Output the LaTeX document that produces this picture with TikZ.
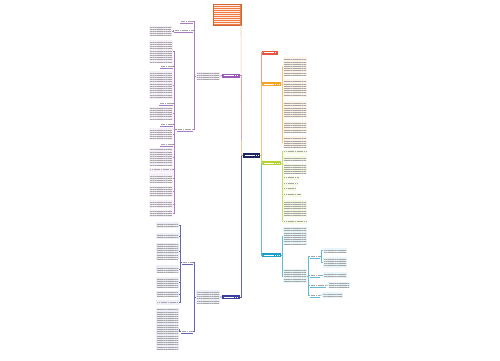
\documentclass[tikz,border=0pt]{standalone}
\usetikzlibrary{patterns.meta}
\definecolor{txt}{HTML}{A6A6A6}
\definecolor{cTop}{HTML}{EF7A42}
\definecolor{cRed}{HTML}{E8553E}
\definecolor{cOrg}{HTML}{F5A524}
\definecolor{cGrn}{HTML}{B5D334}
\definecolor{cCyn}{HTML}{1E9FC9}
\definecolor{cRoot}{HTML}{1D2767}
\definecolor{cPur}{HTML}{9C5BB6}
\definecolor{cNav}{HTML}{3D3F9E}
\definecolor{bOrg}{HTML}{FEF4E8}
\definecolor{bGrn}{HTML}{F7FAE3}
\definecolor{bCyn}{HTML}{E8F5FA}
\definecolor{bPur}{HTML}{F6EEF8}
\definecolor{bNav}{HTML}{EDEEF8}
\definecolor{lTop}{HTML}{F4C7A2}
\definecolor{lRed}{HTML}{EE9C8C}
\definecolor{lOrg}{HTML}{F6C478}
\definecolor{lGrn}{HTML}{C8DB6E}
\definecolor{lCyn}{HTML}{63B9D9}
\definecolor{lPur}{HTML}{A87CC1}
\definecolor{lNav}{HTML}{6466B4}
\newcommand\bx[6]{\pgfmathsetmacro\bxw{#4-(#2)}\pgfmathsetmacro\bxh{#5-(#3)}%
  \node[#6, anchor=north west, minimum width=\bxw bp, minimum height=\bxh bp] (#1) at (#2,#3) {};}
\tikzset{
  every node/.style={inner sep=0pt, outer sep=0pt},
  ln/.style={line width=0.6bp},
  tblk/.style={fill=#1, path picture={\fill[pattern={Lines[angle=0,distance=2.2pt,line width=0.55pt]}, pattern color=txt]
     ([xshift=1bp,yshift=-1bp]path picture bounding box.north west) rectangle ([xshift=-1bp,yshift=0.8bp]path picture bounding box.south east);}},
  sline/.style={fill=#1, path picture={\draw[txt, line width=0.65pt, dash pattern=on 1.4pt off 0.4pt]
     ([xshift=1bp]path picture bounding box.west) -- ([xshift=-1bp]path picture bounding box.east);}},
  lbl/.style={path picture={\draw[txt, line width=0.65pt, dash pattern=on 1.4pt off 0.4pt]
     ([xshift=0.5bp,yshift=0.3bp]path picture bounding box.west) -- ([xshift=-0.5bp,yshift=0.3bp]path picture bounding box.east);}},
  cn/.style={fill=#1, path picture={\draw[white, line width=0.8pt, dash pattern=on 1.5pt off 0.4pt]
     ([xshift=1.5bp]path picture bounding box.west) -- ([xshift=-1.5bp]path picture bounding box.east);}},
  topbox/.style={fill=cTop, draw=cTop!85!black, line width=0.3bp, path picture={\fill[pattern={Lines[angle=0,distance=2pt,line width=0.5pt]}, pattern color=white!85!cTop]
     ([xshift=1.2bp,yshift=-1.2bp]path picture bounding box.north west) rectangle ([xshift=-1.2bp,yshift=1bp]path picture bounding box.south east);}}
}
\begin{document}
\begin{tikzpicture}[x=1bp,y=-1bp]
\fill[white] (0,0) rectangle (500,360);
\useasboundingbox (0,0) rectangle (500,360);
% main nodes
\bx{top}{213}{4}{241}{25}{topbox}
\bx{root}{243}{152.5}{260}{157.5}{cn=cRoot}
\bx{red}{262}{50.5}{278}{54.5}{cn=cRed}
\bx{org}{262}{82}{281}{86}{cn=cOrg}
\bx{grn}{262}{161}{281}{165}{cn=cGrn}
\bx{cyn}{262}{253}{281}{257}{cn=cCyn}
\bx{pur}{222}{73.5}{240}{77.5}{cn=cPur}
\bx{nav}{222}{295}{240}{299}{cn=cNav}
% orange children
\bx{o1}{283}{57}{307}{76}{tblk=bOrg}
\bx{o2}{283}{79}{307}{97}{tblk=bOrg}
\bx{o3}{283}{101}{307}{118}{tblk=bOrg}
\bx{o4}{283}{121}{307}{133}{tblk=bOrg}
\bx{o5}{283}{136}{307}{148}{tblk=bOrg}
% green children
\bx{g1}{283}{150}{307}{153.5}{sline=bGrn}
\bx{g2}{283}{156}{307}{161}{tblk=bGrn}
\bx{g3}{283}{164}{307}{174}{tblk=bGrn}
\bx{g4}{283}{176}{300}{179.5}{sline=bGrn}
\bx{g5}{283}{182}{298}{185.5}{sline=bGrn}
\bx{g6}{283}{187}{296}{190.5}{sline=bGrn}
\bx{g7}{283}{193}{302}{196.5}{sline=bGrn}
\bx{g8}{283}{200}{307}{217}{tblk=bGrn}
\bx{g9}{283}{220}{307}{223.5}{sline=bGrn}
% cyan children
\bx{k1}{283}{227}{307}{245}{tblk=bCyn}
\bx{k2}{283}{269}{307}{283}{tblk=bCyn}
\bx{F}{310}{254.5}{320}{258}{lbl}
\bx{G}{310}{273.5}{320}{277}{lbl}
\bx{H}{310}{283.5}{326}{287}{lbl}
\bx{I}{310}{293.5}{320}{297}{lbl}
\bx{f1}{323}{248}{347}{253}{tblk=bCyn}
\bx{f2}{323}{257}{347}{268}{tblk=bCyn}
\bx{gg}{323}{272}{347}{278}{tblk=bCyn}
\bx{hh}{328}{282}{350}{288}{tblk=bCyn}
\bx{ii}{322}{292}{343}{298}{tblk=bCyn}
% purple branch
\bx{P0}{196}{72}{220}{80}{tblk=bPur}
\bx{A}{180}{20}{193}{23.5}{lbl}
\bx{B}{174}{29}{193}{32.5}{lbl}
\bx{C}{177}{128}{193}{131.5}{lbl}
\bx{Bc}{149}{26}{172}{36}{tblk=bPur}
\bx{c1}{149}{40}{173}{63}{tblk=bPur}
\bx{c2}{160}{65}{173}{68.5}{lbl}
\bx{c3}{149}{71}{173}{99}{tblk=bPur}
\bx{c4}{159}{102}{173}{105.5}{lbl}
\bx{c5}{149}{107}{173}{120}{tblk=bPur}
\bx{c6}{160}{123}{173}{126.5}{lbl}
\bx{c7}{149}{128}{173}{140}{tblk=bPur}
\bx{c8}{160}{143}{173}{146.5}{lbl}
\bx{c9}{149}{148}{173}{166}{tblk=bPur}
\bx{c10}{149}{168}{173}{171.5}{sline=bPur}
\bx{c11}{149}{173}{173}{183}{tblk=bPur}
\bx{c12}{149}{186}{173}{197}{tblk=bPur}
\bx{c13}{149}{200}{173}{208}{tblk=bPur}
\bx{c14}{149}{210}{173}{217}{tblk=bPur}
% navy branch
\bx{N0}{196}{290}{220}{304}{tblk=bNav}
\bx{D}{182}{261}{193}{264.5}{lbl}
\bx{E}{181}{330}{193}{333.5}{lbl}
\bx{d1}{156}{222}{179}{228}{tblk=bNav}
\bx{d2}{156}{233}{179}{239}{tblk=bNav}
\bx{d3}{156}{243}{179}{260}{tblk=bNav}
\bx{d4}{156}{265}{179}{273}{tblk=bNav}
\bx{d5}{156}{277}{179}{288}{tblk=bNav}
\bx{d6}{156}{291}{179}{297}{tblk=bNav}
\bx{d7}{156}{300}{179}{304.5}{sline=bNav}
\bx{e1}{156}{308}{179}{350}{tblk=bNav}
% spine
\draw[ln,lNav] (root.west) -- ++(-2,0) |- (nav.east);
\draw[ln,lPur] (root.west) -- ++(-2,0) |- (pur.east);
\draw[ln,lTop] (root.west) -- ++(-1.5,0) -- (top.south east);
\draw[ln,lCyn] (root.east) -- ++(1.5,0) |- (cyn.west);
\draw[ln,lGrn] (root.east) -- ++(1.5,0) |- (grn.west);
\draw[ln,lRed] (root.east) -- ++(1.5,0) |- (red.west);
\draw[ln,lOrg] (root.east) -- ++(1.5,0) |- (org.west);
% right children
\foreach \ch in {o1,o2,o3,o4,o5} \draw[ln,lOrg] (org.east) -- ++(1,0) |- (\ch.west);
\foreach \ch in {g1,g2,g3,g4,g5,g6,g7,g8,g9} \draw[ln,lGrn] (grn.east) -- ++(1,0) |- (\ch.west);
\foreach \ch in {k1,k2} \draw[ln,lCyn] (cyn.east) -- ++(1,0) |- (\ch.west);
\foreach \ch in {F,G,H,I} \draw[ln,lCyn] (k2.east) -- ++(1.5,0) |- (\ch.west);
\foreach \ch in {f1,f2} \draw[ln,lCyn] (F.east) -- ++(1.5,0) |- (\ch.west);
\draw[ln,lCyn] (G.east) -- ++(1.5,0) |- (gg.west);
\draw[ln,lCyn] (H.east) -- (hh.west);
\draw[ln,lCyn] (I.east) -- (ii.west);
% left children
\draw[ln,lPur] (pur.west) -- (P0.east);
\foreach \ch in {A,B,C} \draw[ln,lPur] (P0.west) -- ++(-2,0) |- (\ch.east);
\draw[ln,lPur] (B.west) -- ++(-1,0) |- (Bc.east);
\foreach \ch in {c1,c2,c3,c4,c5,c6,c7,c8,c9,c10,c11,c12,c13,c14} \draw[ln,lPur] (C.west) -- ++(-3,0) |- (\ch.east);
\draw[ln,lNav] (nav.west) -- (N0.east);
\foreach \ch in {D,E} \draw[ln,lNav] (N0.west) -- ++(-2,0) |- (\ch.east);
\foreach \ch in {d1,d2,d3,d4,d5,d6,d7} \draw[ln,lNav] (D.west) -- ++(-2,0) |- (\ch.east);
\draw[ln,lNav] (E.west) -- ++(-2,0) |- (e1.east);
% underlines of labels
\foreach \n/\cl in {A/lPur,B/lPur,C/lPur,c2/lPur,c4/lPur,c6/lPur,c8/lPur,D/lNav,E/lNav,F/lCyn,G/lCyn,H/lCyn,I/lCyn}
  \draw[ln,\cl] (\n.south west) -- (\n.south east);
\end{tikzpicture}
\end{document}
